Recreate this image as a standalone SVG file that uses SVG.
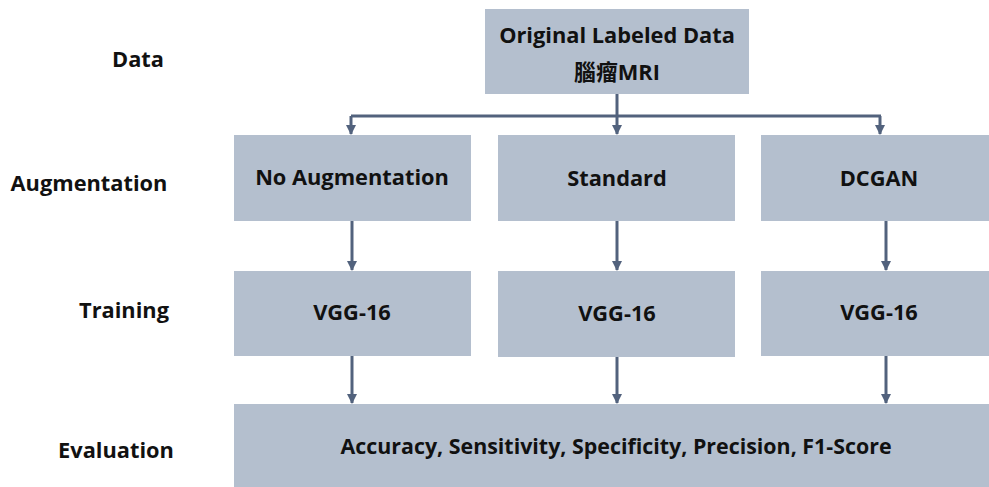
<svg xmlns="http://www.w3.org/2000/svg" width="989" height="487" viewBox="0 0 989 487">
  <style>
    .box { fill: #b4bfce; }
    .t { font-family: "Open Sans", "Noto Sans CJK TC", sans-serif; font-weight: bold; font-size: 21.8px; fill: #111111; text-anchor: middle; dominant-baseline: central; }
    .lab { font-family: "Open Sans", sans-serif; font-weight: bold; font-size: 21.8px; fill: #111111; text-anchor: middle; dominant-baseline: central; }
    .c { fill: none; stroke: #52627d; stroke-width: 3; }
  </style>
  <defs>
    <marker id="arr" viewBox="0 0 10 10" refX="9" refY="5" markerWidth="3.5" markerHeight="3.5" orient="auto" markerUnits="strokeWidth">
      <path d="M0,0 L10,5 L0,10 z" fill="#52627d"/>
    </marker>
  </defs>

  <!-- row labels -->
  <g id="row-labels">
    <text class="lab" x="138" y="58.5">Data</text>
    <text class="lab" x="89" y="182.5">Augmentation</text>
    <text class="lab" x="124" y="309.5">Training</text>
    <text class="lab" x="116" y="449.5">Evaluation</text>
  </g>

  <!-- connectors -->
  <g id="connectors">
    <path class="c" d="M617,94 V116"/>
    <path class="c" d="M351,116 H881"/>
    <path class="c" d="M351,116 V134" marker-end="url(#arr)"/>
    <path class="c" d="M617,116 V134" marker-end="url(#arr)"/>
    <path class="c" d="M880,116 V134" marker-end="url(#arr)"/>
    <path class="c" d="M352,221 V270" marker-end="url(#arr)"/>
    <path class="c" d="M617,221 V270" marker-end="url(#arr)"/>
    <path class="c" d="M886,221 V270" marker-end="url(#arr)"/>
    <path class="c" d="M352,356 V403" marker-end="url(#arr)"/>
    <path class="c" d="M617,357 V403" marker-end="url(#arr)"/>
    <path class="c" d="M886,356 V403" marker-end="url(#arr)"/>
  </g>

  <g id="data">
    <rect class="box" x="485" y="9" width="264" height="85"/>
    <text class="t" x="617" y="34">Original Labeled Data</text>
    <text class="t" x="617" y="71">腦瘤MRI</text>
  </g>

  <g id="aug-none">
    <rect class="box" x="234" y="135" width="237" height="86"/>
    <text class="t" x="352" y="176.5">No Augmentation</text>
  </g>
  <g id="aug-standard">
    <rect class="box" x="498" y="135" width="237" height="86"/>
    <text class="t" x="617" y="177">Standard</text>
  </g>
  <g id="aug-dcgan">
    <rect class="box" x="761" y="135" width="237" height="86"/>
    <text class="t" x="879" y="177">DCGAN</text>
  </g>

  <g id="train-none">
    <rect class="box" x="234" y="271" width="237" height="85"/>
    <text class="t" x="352" y="311.5">VGG-16</text>
  </g>
  <g id="train-standard">
    <rect class="box" x="498" y="271" width="237" height="86"/>
    <text class="t" x="617" y="312.5">VGG-16</text>
  </g>
  <g id="train-dcgan">
    <rect class="box" x="761" y="271" width="237" height="85"/>
    <text class="t" x="879" y="311.5">VGG-16</text>
  </g>

  <g id="evaluation">
    <rect class="box" x="234" y="404" width="764" height="83"/>
    <text class="t" x="616" y="445.5" style="font-size:21.4px">Accuracy, Sensitivity, Specificity, Precision, F1-Score</text>
  </g>
</svg>
